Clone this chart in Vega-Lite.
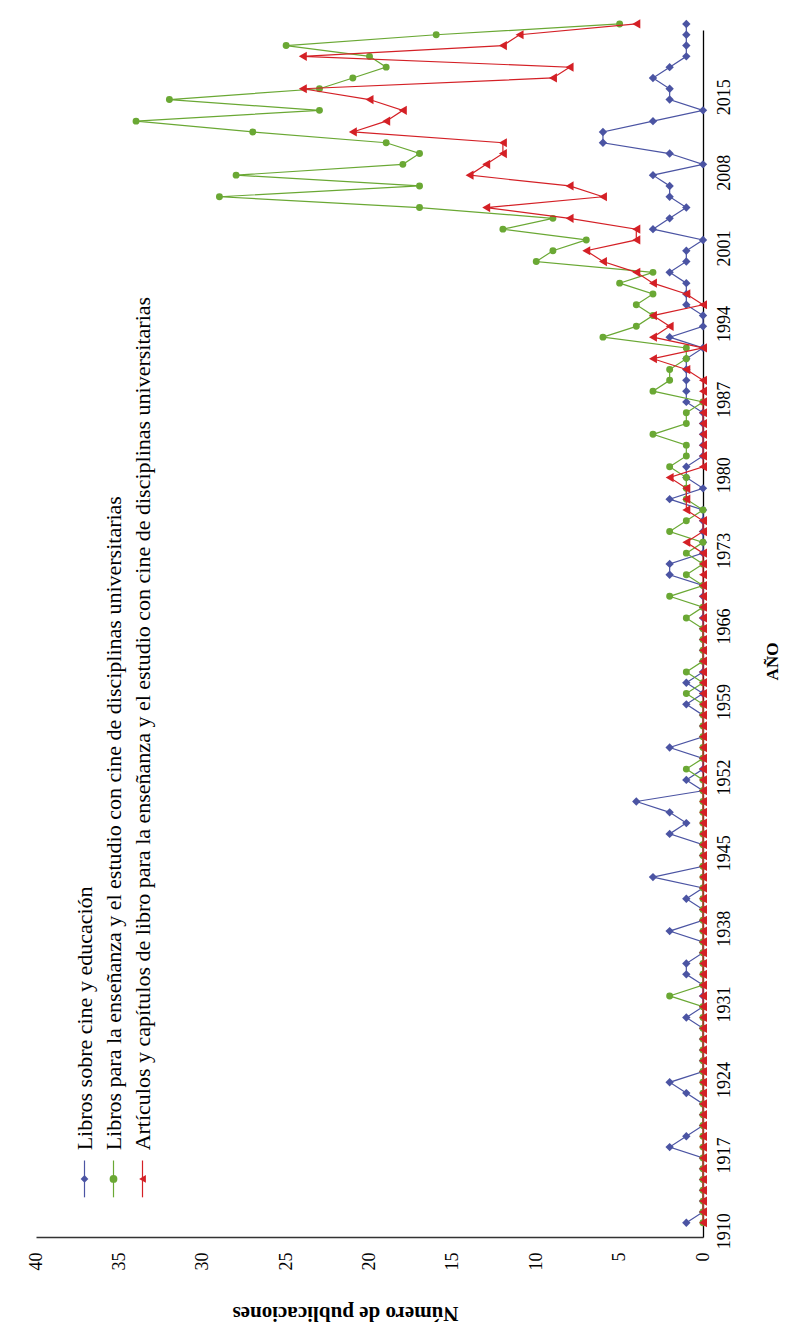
{
  "$schema": "https://vega.github.io/schema/vega-lite/v6.json",
  "width": 667,
  "height": 1207,
  "autosize": {"type": "none"},
  "padding": {"left": 36, "top": 30, "right": 102, "bottom": 96},
  "background": "white",
  "config": {"view": {"stroke": null}, "font": "Liberation Serif"},
  "datasets": {
    "pub": [
      {"year":1910,"libros":1,"ensenanza":0,"articulos":0},
      {"year":1911,"libros":0,"ensenanza":0,"articulos":0},
      {"year":1912,"libros":0,"ensenanza":0,"articulos":0},
      {"year":1913,"libros":0,"ensenanza":0,"articulos":0},
      {"year":1914,"libros":0,"ensenanza":0,"articulos":0},
      {"year":1915,"libros":0,"ensenanza":0,"articulos":0},
      {"year":1916,"libros":0,"ensenanza":0,"articulos":0},
      {"year":1917,"libros":2,"ensenanza":0,"articulos":0},
      {"year":1918,"libros":1,"ensenanza":0,"articulos":0},
      {"year":1919,"libros":0,"ensenanza":0,"articulos":0},
      {"year":1920,"libros":0,"ensenanza":0,"articulos":0},
      {"year":1921,"libros":0,"ensenanza":0,"articulos":0},
      {"year":1922,"libros":1,"ensenanza":0,"articulos":0},
      {"year":1923,"libros":2,"ensenanza":0,"articulos":0},
      {"year":1924,"libros":0,"ensenanza":0,"articulos":0},
      {"year":1925,"libros":0,"ensenanza":0,"articulos":0},
      {"year":1926,"libros":0,"ensenanza":0,"articulos":0},
      {"year":1927,"libros":0,"ensenanza":0,"articulos":0},
      {"year":1928,"libros":0,"ensenanza":0,"articulos":0},
      {"year":1929,"libros":1,"ensenanza":0,"articulos":0},
      {"year":1930,"libros":0,"ensenanza":0,"articulos":0},
      {"year":1931,"libros":0,"ensenanza":2,"articulos":0},
      {"year":1932,"libros":0,"ensenanza":0,"articulos":0},
      {"year":1933,"libros":1,"ensenanza":0,"articulos":0},
      {"year":1934,"libros":1,"ensenanza":0,"articulos":0},
      {"year":1935,"libros":0,"ensenanza":0,"articulos":0},
      {"year":1936,"libros":0,"ensenanza":0,"articulos":0},
      {"year":1937,"libros":2,"ensenanza":0,"articulos":0},
      {"year":1938,"libros":0,"ensenanza":0,"articulos":0},
      {"year":1939,"libros":0,"ensenanza":0,"articulos":0},
      {"year":1940,"libros":1,"ensenanza":0,"articulos":0},
      {"year":1941,"libros":0,"ensenanza":0,"articulos":0},
      {"year":1942,"libros":3,"ensenanza":0,"articulos":0},
      {"year":1943,"libros":0,"ensenanza":0,"articulos":0},
      {"year":1944,"libros":0,"ensenanza":0,"articulos":0},
      {"year":1945,"libros":0,"ensenanza":0,"articulos":0},
      {"year":1946,"libros":2,"ensenanza":0,"articulos":0},
      {"year":1947,"libros":1,"ensenanza":0,"articulos":0},
      {"year":1948,"libros":2,"ensenanza":0,"articulos":0},
      {"year":1949,"libros":4,"ensenanza":0,"articulos":0},
      {"year":1950,"libros":0,"ensenanza":0,"articulos":0},
      {"year":1951,"libros":1,"ensenanza":0,"articulos":0},
      {"year":1952,"libros":0,"ensenanza":1,"articulos":0},
      {"year":1953,"libros":0,"ensenanza":0,"articulos":0},
      {"year":1954,"libros":2,"ensenanza":0,"articulos":0},
      {"year":1955,"libros":0,"ensenanza":0,"articulos":0},
      {"year":1956,"libros":0,"ensenanza":0,"articulos":0},
      {"year":1957,"libros":0,"ensenanza":0,"articulos":0},
      {"year":1958,"libros":1,"ensenanza":0,"articulos":0},
      {"year":1959,"libros":0,"ensenanza":1,"articulos":0},
      {"year":1960,"libros":1,"ensenanza":0,"articulos":0},
      {"year":1961,"libros":0,"ensenanza":1,"articulos":0},
      {"year":1962,"libros":0,"ensenanza":0,"articulos":0},
      {"year":1963,"libros":0,"ensenanza":0,"articulos":0},
      {"year":1964,"libros":0,"ensenanza":0,"articulos":0},
      {"year":1965,"libros":0,"ensenanza":0,"articulos":0},
      {"year":1966,"libros":0,"ensenanza":1,"articulos":0},
      {"year":1967,"libros":0,"ensenanza":0,"articulos":0},
      {"year":1968,"libros":0,"ensenanza":2,"articulos":0},
      {"year":1969,"libros":0,"ensenanza":0,"articulos":0},
      {"year":1970,"libros":2,"ensenanza":1,"articulos":0},
      {"year":1971,"libros":2,"ensenanza":0,"articulos":0},
      {"year":1972,"libros":0,"ensenanza":1,"articulos":0},
      {"year":1973,"libros":0,"ensenanza":0,"articulos":1},
      {"year":1974,"libros":0,"ensenanza":2,"articulos":0},
      {"year":1975,"libros":0,"ensenanza":1,"articulos":0},
      {"year":1976,"libros":0,"ensenanza":0,"articulos":1},
      {"year":1977,"libros":2,"ensenanza":1,"articulos":1},
      {"year":1978,"libros":0,"ensenanza":1,"articulos":1},
      {"year":1979,"libros":1,"ensenanza":1,"articulos":2},
      {"year":1980,"libros":1,"ensenanza":2,"articulos":0},
      {"year":1981,"libros":0,"ensenanza":1,"articulos":0},
      {"year":1982,"libros":0,"ensenanza":1,"articulos":0},
      {"year":1983,"libros":0,"ensenanza":3,"articulos":0},
      {"year":1984,"libros":0,"ensenanza":1,"articulos":0},
      {"year":1985,"libros":0,"ensenanza":1,"articulos":0},
      {"year":1986,"libros":1,"ensenanza":0,"articulos":0},
      {"year":1987,"libros":1,"ensenanza":3,"articulos":0},
      {"year":1988,"libros":1,"ensenanza":2,"articulos":0},
      {"year":1989,"libros":1,"ensenanza":2,"articulos":1},
      {"year":1990,"libros":1,"ensenanza":1,"articulos":3},
      {"year":1991,"libros":0,"ensenanza":1,"articulos":0},
      {"year":1992,"libros":2,"ensenanza":6,"articulos":3},
      {"year":1993,"libros":0,"ensenanza":4,"articulos":2},
      {"year":1994,"libros":0,"ensenanza":3,"articulos":3},
      {"year":1995,"libros":1,"ensenanza":4,"articulos":0},
      {"year":1996,"libros":1,"ensenanza":3,"articulos":1},
      {"year":1997,"libros":1,"ensenanza":5,"articulos":3},
      {"year":1998,"libros":2,"ensenanza":3,"articulos":4},
      {"year":1999,"libros":1,"ensenanza":10,"articulos":6},
      {"year":2000,"libros":1,"ensenanza":9,"articulos":7},
      {"year":2001,"libros":0,"ensenanza":7,"articulos":4},
      {"year":2002,"libros":3,"ensenanza":12,"articulos":4},
      {"year":2003,"libros":2,"ensenanza":9,"articulos":8},
      {"year":2004,"libros":1,"ensenanza":17,"articulos":13},
      {"year":2005,"libros":2,"ensenanza":29,"articulos":6},
      {"year":2006,"libros":2,"ensenanza":17,"articulos":8},
      {"year":2007,"libros":3,"ensenanza":28,"articulos":14},
      {"year":2008,"libros":0,"ensenanza":18,"articulos":13},
      {"year":2009,"libros":2,"ensenanza":17,"articulos":12},
      {"year":2010,"libros":6,"ensenanza":19,"articulos":12},
      {"year":2011,"libros":6,"ensenanza":27,"articulos":21},
      {"year":2012,"libros":3,"ensenanza":34,"articulos":19},
      {"year":2013,"libros":0,"ensenanza":23,"articulos":18},
      {"year":2014,"libros":2,"ensenanza":32,"articulos":20},
      {"year":2015,"libros":2,"ensenanza":23,"articulos":24},
      {"year":2016,"libros":3,"ensenanza":21,"articulos":9},
      {"year":2017,"libros":2,"ensenanza":19,"articulos":8},
      {"year":2018,"libros":1,"ensenanza":20,"articulos":24},
      {"year":2019,"libros":1,"ensenanza":25,"articulos":12},
      {"year":2020,"libros":1,"ensenanza":16,"articulos":11},
      {"year":2021,"libros":1,"ensenanza":5,"articulos":4}
    ],
    "leyenda": [
      {"serie":"libros","etiqueta":"Libros sobre cine y educación"},
      {"serie":"ensenanza","etiqueta":"Libros para la enseñanza y el estudio con cine de disciplinas universitarias"},
      {"serie":"articulos","etiqueta":"Artículos y capítulos de libro para la enseñanza y el estudio con cine de disciplinas universitarias"}
    ]
  },
  "layer": [
    {
      "data": {"name": "pub"},
      "layer": [
        {
          "mark": {"type": "line", "strokeWidth": 1.2},
          "encoding": {
            "x": {"field": "libros", "type": "quantitative",
              "scale": {"domain": [0, 40], "reverse": true, "nice": false, "zero": false},
              "axis": {"title": "Número de publicaciones", "values": [0,5,10,15,20,25,30,35,40], "grid": false, "ticks": false,
                "domainColor": "#333333", "domainWidth": 1.3, "labelAngle": 270, "labelAlign": "right", "labelBaseline": "middle",
                "labelPadding": 15, "labelFont": "Liberation Serif", "labelFontSize": 18, "labelColor": "#000000",
                "labelFlush": false, "labelOverlap": false,
                "titleFont": "Liberation Serif", "titleFontSize": 21, "titleFontWeight": "bold", "titleColor": "#000000",
                "titleAngle": 180, "titleX": 309, "titleY": 75, "titleAlign": "center", "titleBaseline": "middle"}},
            "y": {"field": "year", "type": "quantitative",
              "scale": {"domain": [1908.676, 2020.44], "nice": false, "zero": false},
              "axis": {"title": "AÑO", "orient": "right", "values": [1910,1917,1924,1931,1938,1945,1952,1959,1966,1973,1980,1987,1994,2001,2008,2015],
                "format": "d", "grid": false, "ticks": false, "domainColor": "#000000", "domainWidth": 1.3,
                "labelAngle": 270, "labelAlign": "center", "labelBaseline": "top", "labelPadding": 12, "labelOffset": 8,
                "labelFont": "Liberation Serif", "labelFontSize": 18, "labelColor": "#000000", "labelFlush": false, "labelOverlap": false,
                "titleFont": "Liberation Serif", "titleFontSize": 17, "titleFontWeight": "bold", "titleColor": "#000000",
                "titleAngle": 270, "titleX": 69, "titleY": 631, "titleAlign": "center", "titleBaseline": "middle"}},
            "order": {"field": "year", "type": "quantitative"},
            "color": {"datum": "libros", "type": "nominal",
              "scale": {"domain": ["libros", "ensenanza", "articulos"], "range": ["#4B54A3", "#6AA834", "#D42026"]}, "legend": null}
          }
        },
        {
          "mark": {"type": "point", "filled": true, "opacity": 1, "size": 70},
          "encoding": {
            "x": {"field": "libros", "type": "quantitative"},
            "y": {"field": "year", "type": "quantitative"},
            "color": {"datum": "libros", "type": "nominal"},
            "shape": {"datum": "libros", "type": "nominal",
              "scale": {"domain": ["libros", "ensenanza", "articulos"], "range": ["diamond", "circle", "triangle-left"]}, "legend": null}
          }
        },
        {
          "mark": {"type": "line", "strokeWidth": 1.2},
          "encoding": {
            "x": {"field": "ensenanza", "type": "quantitative"},
            "y": {"field": "year", "type": "quantitative"},
            "order": {"field": "year", "type": "quantitative"},
            "color": {"datum": "ensenanza", "type": "nominal"}
          }
        },
        {
          "mark": {"type": "point", "filled": true, "opacity": 1, "size": 48},
          "encoding": {
            "x": {"field": "ensenanza", "type": "quantitative"},
            "y": {"field": "year", "type": "quantitative"},
            "color": {"datum": "ensenanza", "type": "nominal"},
            "shape": {"datum": "ensenanza", "type": "nominal"}
          }
        },
        {
          "mark": {"type": "line", "strokeWidth": 1.2},
          "encoding": {
            "x": {"field": "articulos", "type": "quantitative"},
            "y": {"field": "year", "type": "quantitative"},
            "order": {"field": "year", "type": "quantitative"},
            "color": {"datum": "articulos", "type": "nominal"}
          }
        },
        {
          "mark": {"type": "point", "filled": true, "opacity": 1, "size": 85},
          "encoding": {
            "x": {"field": "articulos", "type": "quantitative"},
            "y": {"field": "year", "type": "quantitative"},
            "color": {"datum": "articulos", "type": "nominal"},
            "shape": {"datum": "articulos", "type": "nominal"}
          }
        }
      ]
    },
    {
      "data": {"name": "leyenda"},
      "layer": [
        {
          "mark": {"type": "rule", "strokeWidth": 1.2},
          "encoding": {
            "x": {"field": "serie", "type": "nominal", "scale": {"type": "point", "domain": ["libros", "ensenanza", "articulos"], "range": [34, 121]}, "axis": null},
            "y": {"datum": 1912.35},
            "y2": {"datum": 1915.76},
            "color": {"field": "serie", "type": "nominal"}
          }
        },
        {
          "mark": {"type": "point", "filled": true, "opacity": 1, "size": 60},
          "encoding": {
            "x": {"field": "serie", "type": "nominal"},
            "y": {"datum": 1914.05},
            "color": {"field": "serie", "type": "nominal"},
            "shape": {"field": "serie", "type": "nominal"}
          }
        },
        {
          "mark": {"type": "text", "angle": 270, "align": "left", "baseline": "middle", "font": "Liberation Serif", "fontSize": 22, "color": "#000000"},
          "encoding": {
            "x": {"field": "serie", "type": "nominal"},
            "y": {"datum": 1916.7},
            "text": {"field": "etiqueta"}
          }
        }
      ]
    }
  ],
  "resolve": {"scale": {"x": "independent"}}
}
